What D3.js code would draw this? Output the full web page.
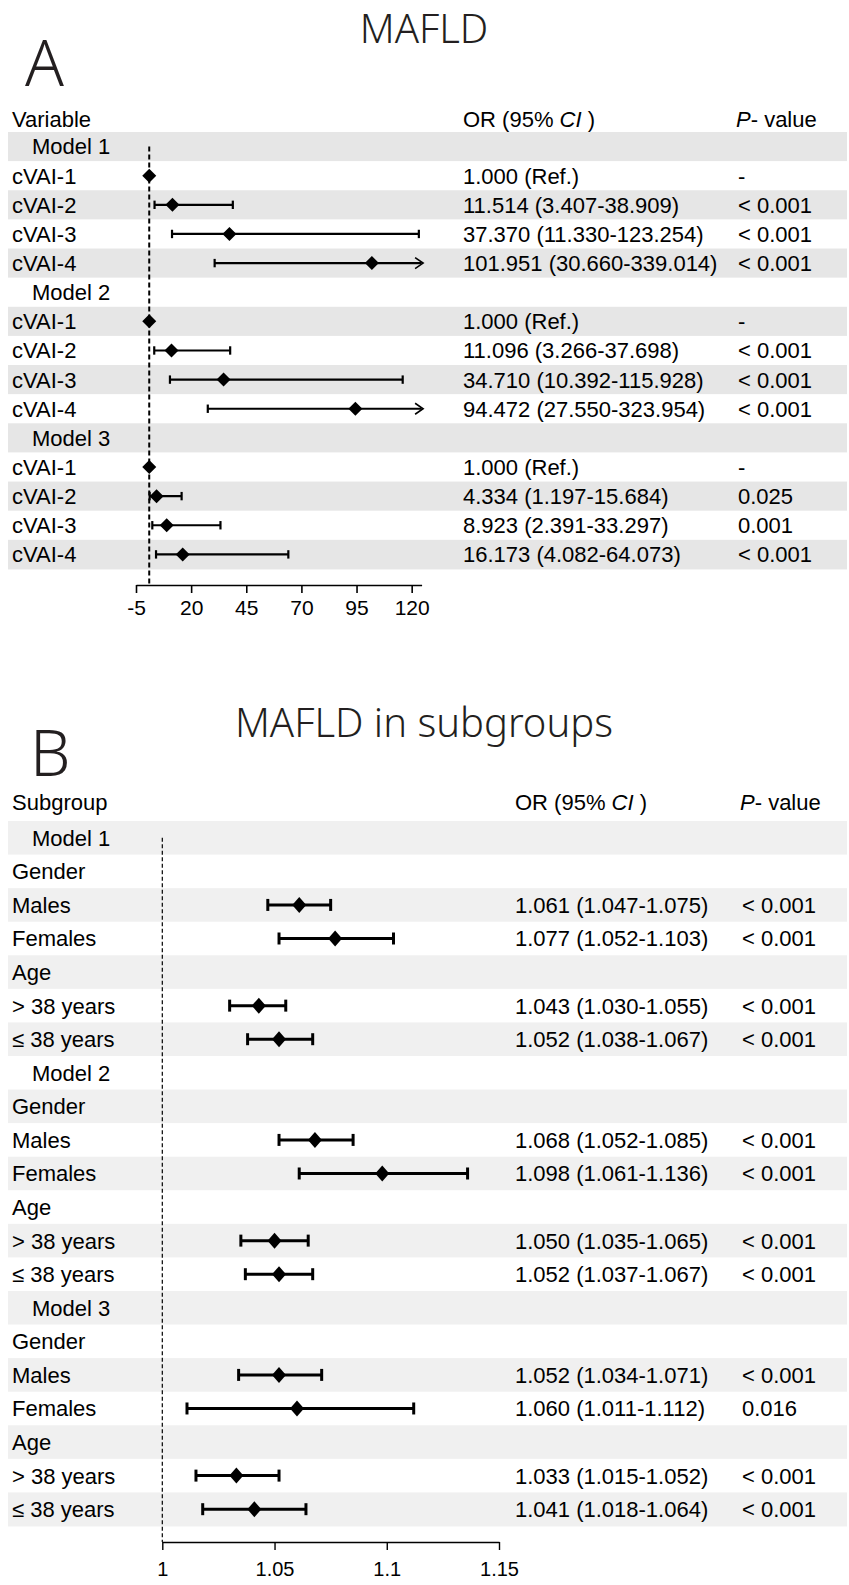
<!DOCTYPE html>
<html>
<head>
<meta charset="utf-8">
<script src="https://cdn.jsdelivr.net/npm/d3@7"></script>
<style>
  body { margin: 0; background: #fff; }
  svg { display: block; font-family: 'Liberation Sans', Arial, sans-serif; }
  .big { font-family: 'Noto Sans', sans-serif; font-weight: 300; fill: #231f20; }
</style>
</head>
<body>
<div id="chart"></div>
<script>
// panel A - cVAI quartiles
const aModels = ['Model 1', 'Model 2', 'Model 3']
const aLevels = ['cVAI-1', 'cVAI-2', 'cVAI-3', 'cVAI-4']
const aOR = [[1.000, 11.514, 37.370, 101.951],
             [1.000, 11.096, 34.710, 94.472],
             [1.000, 4.334, 8.923, 16.173]]
const aLower = [[null, 3.407, 11.330, 30.660],
                [null, 3.266, 10.392, 27.550],
                [null, 1.197, 2.391, 4.082]]
const aUpper = [[null, 38.909, 123.254, 339.014],
                [null, 37.698, 115.928, 323.954],
                [null, 15.684, 33.297, 64.073]]
const aP = [['-', '< 0.001', '< 0.001', '< 0.001'],
            ['-', '< 0.001', '< 0.001', '< 0.001'],
            ['-', '0.025', '0.001', '< 0.001']]
const aTicks = [-5, 20, 45, 70, 95, 120]

// panel B - subgroups
const bModels = ['Model 1', 'Model 2', 'Model 3']
const bGroups = ['Gender', 'Age']
const bLevels = [['Males', 'Females'], ['> 38 years', '≤ 38 years']]
const bOR = [[1.061, 1.077, 1.043, 1.052],
             [1.068, 1.098, 1.050, 1.052],
             [1.052, 1.060, 1.033, 1.041]]
const bLower = [[1.047, 1.052, 1.030, 1.038],
                [1.052, 1.061, 1.035, 1.037],
                [1.034, 1.011, 1.015, 1.018]]
const bUpper = [[1.075, 1.103, 1.055, 1.067],
                [1.085, 1.136, 1.065, 1.067],
                [1.071, 1.112, 1.052, 1.064]]
const bP = [['< 0.001', '< 0.001', '< 0.001', '< 0.001'],
            ['< 0.001', '< 0.001', '< 0.001', '< 0.001'],
            ['< 0.001', '0.016', '< 0.001', '< 0.001']]
const bTicks = [1, 1.05, 1.1, 1.15]

const fmt = d3.format('.3f')

let rowsA = []
aModels.forEach(function(m, mi){
  rowsA.push({ label: m, model: true })
  aLevels.forEach(function(lv, li){
    let lo = aLower[mi][li], hi = aUpper[mi][li], or = aOR[mi][li]
    rowsA.push({ label: lv, or: or, lo: lo, hi: hi, p: aP[mi][li],
                 text: lo == null ? fmt(or) + ' (Ref.)' : fmt(or) + ' (' + fmt(lo) + '-' + fmt(hi) + ')' })
  })
})

let rowsB = []
bModels.forEach(function(m, mi){
  rowsB.push({ label: m, model: true })
  let k = 0
  bGroups.forEach(function(gr, gi){
    rowsB.push({ label: gr })
    bLevels[gi].forEach(function(lv){
      let or = bOR[mi][k], lo = bLower[mi][k], hi = bUpper[mi][k]
      rowsB.push({ label: lv, or: or, lo: lo, hi: hi, p: bP[mi][k],
                   text: fmt(or) + ' (' + fmt(lo) + '-' + fmt(hi) + ')' })
      k++
    })
  })
})

const svg = d3.select('#chart').append('svg')
  .attr('width', 849)
  .attr('height', 1585)

svg.append('rect').attr('width', 849).attr('height', 1585).attr('fill', '#fff')

function forest(opt){
  let g = svg.append('g')
  let rows = opt.rows
  let y = function(i){ return opt.top + opt.rowH * (i + 0.5) }
  let x = d3.scaleLinear().domain(opt.domain).range(opt.range)
  let xMax = opt.domain[1]

  //letter and title
  g.append('text').attr('class', 'big')
    .attr('x', opt.letterX).attr('y', opt.letterY)
    .style('font-size', '64px')
    .text(opt.letter)
  g.append('text').attr('class', 'big')
    .attr('x', 424).attr('y', opt.titleY)
    .attr('text-anchor', 'middle')
    .style('font-size', '40px')
    .text(opt.title)

  //bands
  g.selectAll('rect.band')
    .data(rows)
    .enter().append('rect')
    .attr('class', 'band')
    .attr('x', 8).attr('width', 839)
    .attr('y', function(d, i){ return opt.top + opt.rowH * i })
    .attr('height', opt.rowH + 0.5)
    .attr('fill', function(d, i){ return i % 2 === 0 ? opt.band : '#fff' })

  //header row
  let hdr = g.append('g').style('font-size', '22px')
  hdr.append('text').attr('x', 12).attr('y', opt.headerY).text(opt.header)
  let orH = hdr.append('text').attr('x', opt.orX).attr('y', opt.headerY)
  orH.append('tspan').text('OR (95% ')
  orH.append('tspan').style('font-style', 'italic').text('CI')
  orH.append('tspan').text(' )')
  let pH = hdr.append('text').attr('x', opt.pX).attr('y', opt.headerY)
  pH.append('tspan').style('font-style', 'italic').text('P')
  pH.append('tspan').text('- value')

  //row texts
  let txt = g.selectAll('g.rowtext')
    .data(rows)
    .enter().append('g')
    .attr('class', 'rowtext')
    .style('font-size', '22px')
  txt.append('text')
    .attr('x', function(d){ return d.model ? 32 : 12 })
    .attr('y', function(d, i){ return y(i) })
    .attr('dy', '0.36em')
    .text(function(d){ return d.label })
  txt.filter(function(d){ return d.text }).append('text')
    .attr('x', opt.orX)
    .attr('y', function(d){ return y(rows.indexOf(d)) })
    .attr('dy', '0.36em')
    .text(function(d){ return d.text })
  txt.filter(function(d){ return d.p }).append('text')
    .attr('x', opt.pX + 2)
    .attr('y', function(d){ return y(rows.indexOf(d)) })
    .attr('dy', '0.36em')
    .text(function(d){ return d.p })

  //reference line at OR = 1
  g.append('line')
    .attr('x1', x(1)).attr('x2', x(1))
    .attr('y1', y(0)).attr('y2', opt.axisY)
    .attr('stroke', '#000')
    .attr('stroke-width', opt.dashW)
    .attr('stroke-dasharray', opt.dash)

  //error bars
  let est = rows.filter(function(d){ return d.or != null })
  let bars = g.selectAll('g.bar')
    .data(est.filter(function(d){ return d.lo != null }))
    .enter().append('g')
    .attr('class', 'bar')
    .attr('stroke', '#000')
    .attr('stroke-width', opt.barW)
    .attr('fill', 'none')
  bars.append('line')
    .attr('x1', function(d){ return x(d.lo) })
    .attr('x2', function(d){ return x(Math.min(d.hi, xMax)) })
    .attr('y1', function(d){ return y(rows.indexOf(d)) })
    .attr('y2', function(d){ return y(rows.indexOf(d)) })
  bars.append('line')
    .attr('x1', function(d){ return x(d.lo) })
    .attr('x2', function(d){ return x(d.lo) })
    .attr('y1', function(d){ return y(rows.indexOf(d)) - opt.capH })
    .attr('y2', function(d){ return y(rows.indexOf(d)) + opt.capH })
  bars.filter(function(d){ return d.hi <= xMax }).append('line')
    .attr('x1', function(d){ return x(d.hi) })
    .attr('x2', function(d){ return x(d.hi) })
    .attr('y1', function(d){ return y(rows.indexOf(d)) - opt.capH })
    .attr('y2', function(d){ return y(rows.indexOf(d)) + opt.capH })
  bars.filter(function(d){ return d.hi > xMax }).append('path')
    .attr('stroke-width', 1.6)
    .attr('d', function(d){
      let ex = x(xMax) + 1.5, ey = y(rows.indexOf(d))
      return 'M' + (ex - 8) + ',' + (ey - 5.5) + 'L' + ex + ',' + ey + 'L' + (ex - 8) + ',' + (ey + 5.5)
    })

  //diamonds
  g.selectAll('path.diamond')
    .data(est)
    .enter().append('path')
    .attr('class', 'diamond')
    .attr('fill', '#000')
    .attr('d', function(d){
      let cx = x(d.or), cy = y(rows.indexOf(d)), w = opt.dmW, h = opt.dmH
      return 'M' + cx + ',' + (cy - h) + 'L' + (cx + w) + ',' + cy + 'L' + cx + ',' + (cy + h) + 'L' + (cx - w) + ',' + cy + 'Z'
    })

  //axis
  let axis = g.append('g')
    .attr('transform', 'translate(0,' + opt.axisY + ')')
    .call(d3.axisBottom(x).tickValues(opt.ticks).tickSize(8).tickSizeOuter(0)
            .tickPadding(opt.tickPad).tickFormat(function(d){ return String(d) }))
  axis.select('.domain').attr('stroke-width', opt.axisW)
  axis.selectAll('.tick line').attr('stroke-width', opt.axisW)
  axis.selectAll('.tick text')
    .attr('fill', '#000')
    .style('font-family', "'Liberation Sans', Arial, sans-serif")
    .style('font-size', opt.tickSize)
}

forest({
  rows: rowsA, top: 132, rowH: 29.13, band: '#e6e6e6',
  domain: [-5, 124.5], range: [136, 421.6], ticks: aTicks,
  axisY: 585, tickPad: 7, tickSize: '21px', axisW: 1.6,
  header: 'Variable', headerY: 127, orX: 463, pX: 736,
  letter: 'A', letterX: 25, letterY: 86, title: 'MAFLD', titleY: 43,
  dash: '5,3', dashW: 2, barW: 2.2, capH: 4.2, dmW: 7, dmH: 7
})

forest({
  rows: rowsB, top: 821, rowH: 33.57, band: '#f0f0f0',
  domain: [1, 1.15], range: [162.3, 499], ticks: bTicks,
  axisY: 1542, tickPad: 12, tickSize: '20px', axisW: 1.4,
  header: 'Subgroup', headerY: 810, orX: 515, pX: 740,
  letter: 'B', letterX: 30, letterY: 776, title: 'MAFLD in subgroups', titleY: 737,
  dash: '4,2.5', dashW: 1.2, barW: 3, capH: 6, dmW: 7, dmH: 8
})
</script>
</body>
</html>
